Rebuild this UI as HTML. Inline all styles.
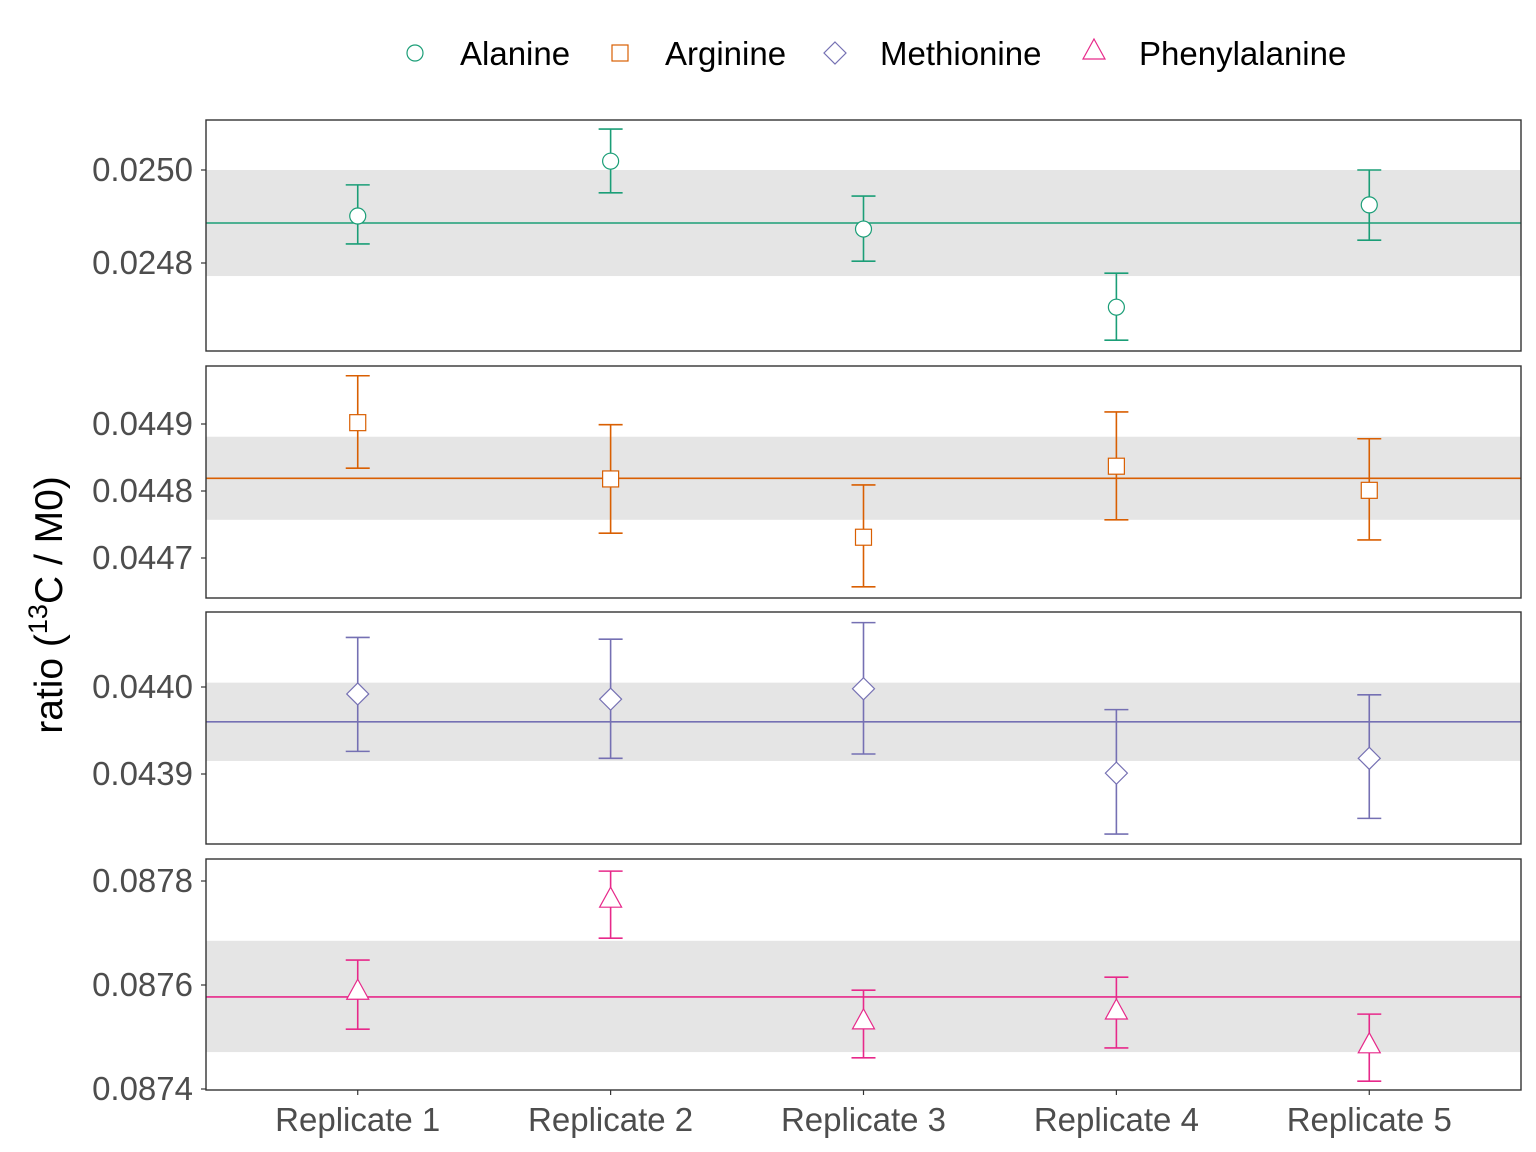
<!DOCTYPE html>
<html><head><meta charset="utf-8"><style>
html,body{margin:0;padding:0;background:#fff;}
svg{display:block;font-family:"Liberation Sans",sans-serif;}
</style></head><body>
<svg id="chart" width="1536" height="1152" viewBox="0 0 1536 1152"></svg>
<script>
const categories = ["Replicate 1","Replicate 2","Replicate 3","Replicate 4","Replicate 5"];
const seriesNames = ["Alanine","Arginine","Methionine","Phenylalanine"];
const alanineVal = [0.024901,0.025019,0.024873,0.024705,0.024925];
const alanineLo  = [0.024841,0.024951,0.024804,0.024634,0.024849];
const alanineHi  = [0.024968,0.025088,0.024944,0.024778,0.025000];
const arginineVal = [0.044902,0.044818,0.044731,0.044837,0.044801];
const arginineLo  = [0.044834,0.044737,0.044657,0.044757,0.044727];
const arginineHi  = [0.044972,0.044899,0.044809,0.044918,0.044878];
const methionineVal = [0.043992,0.043986,0.043998,0.043901,0.043918];
const methionineLo  = [0.043926,0.043918,0.043923,0.043831,0.043849];
const methionineHi  = [0.044057,0.044055,0.044074,0.043974,0.043991];
const pheVal = [0.087588,0.087765,0.087531,0.087550,0.087485];
const pheLo  = [0.087515,0.087690,0.087460,0.087479,0.087415];
const pheHi  = [0.087648,0.087819,0.087590,0.087615,0.087544];
const means = [0.024886,0.044819,0.043960,0.087577];
const bandLo = [0.024772,0.044757,0.043915,0.087471];
const bandHi = [0.025000,0.044881,0.044005,0.087685];
const ticks1 = [0.0248,0.0250];
const ticks2 = [0.0447,0.0448,0.0449];
const ticks3 = [0.0439,0.0440];
const ticks4 = [0.0874,0.0876,0.0878];
const tickLabels1 = ["0.0248","0.0250"];
const tickLabels2 = ["0.0447","0.0448","0.0449"];
const tickLabels3 = ["0.0439","0.0440"];
const tickLabels4 = ["0.0874","0.0876","0.0878"];

const NS="http://www.w3.org/2000/svg";
const svg=document.getElementById('chart');
function mk(tag,attrs,parent){const e=document.createElementNS(NS,tag);for(const k in attrs)e.setAttribute(k,attrs[k]);(parent||svg).appendChild(e);return e;}
const colors=["#1B9E77","#D95F02","#7570B3","#E7298A"];
const X0=206,X1=1521;
function xScale(i){return X0+(i+0.6)*(X1-X0)/5.2;}
const panels=[
 {top:120,bot:351,v0:0.0248,p0:263,v1:0.0250,p1:170,val:alanineVal,lo:alanineLo,hi:alanineHi,ticks:ticks1,tl:tickLabels1,shape:'circle'},
 {top:366,bot:598,v0:0.0447,p0:558,v1:0.0449,p1:424,val:arginineVal,lo:arginineLo,hi:arginineHi,ticks:ticks2,tl:tickLabels2,shape:'square'},
 {top:612,bot:844,v0:0.0439,p0:774,v1:0.0440,p1:687,val:methionineVal,lo:methionineLo,hi:methionineHi,ticks:ticks3,tl:tickLabels3,shape:'diamond'},
 {top:859,bot:1090,v0:0.0874,p0:1089,v1:0.0878,p1:881,val:pheVal,lo:pheLo,hi:pheHi,ticks:ticks4,tl:tickLabels4,shape:'triangle'}
];
function marker(shape,cx,cy,col,parent){
  let e;
  if(shape==='circle')e=mk('circle',{cx:cx,cy:cy,r:8,fill:'#fff',stroke:col,'stroke-width':1.2},parent);
  else if(shape==='square')e=mk('rect',{x:cx-8,y:cy-8,width:16,height:16,fill:'#fff',stroke:col,'stroke-width':1.2},parent);
  else if(shape==='diamond')e=mk('polygon',{points:`${cx},${cy-11} ${cx+11},${cy} ${cx},${cy+11} ${cx-11},${cy}`,fill:'#fff',stroke:col,'stroke-width':1.2},parent);
  else e=mk('polygon',{points:`${cx},${cy-12} ${cx+11},${cy+8} ${cx-11},${cy+8}`,fill:'#fff',stroke:col,'stroke-width':1.2},parent);
  return e;
}
panels.forEach((p,pi)=>{
  const col=colors[pi];
  const y=v=>p.p0+(v-p.v0)*(p.p1-p.p0)/(p.v1-p.v0);
  const g=mk('g',{});
  
  
  mk('rect',{x:X0,y:p.top,width:X1-X0,height:p.bot-p.top,fill:'#fff'},g);
  const band=mk('rect',{x:X0,y:y(bandHi[pi]),width:X1-X0,height:y(bandLo[pi])-y(bandHi[pi]),fill:'#e5e5e5'},g);
  
  
  const ml=mk('line',{x1:X0,x2:X1,y1:y(means[pi]),y2:y(means[pi]),stroke:col,'stroke-width':1.6},g);
  
  
  p.ticks.forEach((t,ti)=>{
    const ty=y(t);
    mk('line',{x1:X0-5,x2:X0,y1:ty,y2:ty,stroke:'#333','stroke-width':1.2},g);
    const tx=mk('text',{x:X0-13,y:ty+11,'text-anchor':'end','font-size':33,fill:'#4d4d4d'},g);
    tx.textContent=p.tl[ti];
    
    
  });
  categories.forEach((c,i)=>{
    const cx=xScale(i);
    const eg=mk('g',{stroke:col,'stroke-width':1.6,fill:'none'},g);
    
    
    mk('line',{x1:cx,x2:cx,y1:y(p.lo[i]),y2:y(p.hi[i])},eg);
    mk('line',{x1:cx-12,x2:cx+12,y1:y(p.lo[i]),y2:y(p.lo[i])},eg);
    mk('line',{x1:cx-12,x2:cx+12,y1:y(p.hi[i]),y2:y(p.hi[i])},eg);
    const m=marker(p.shape,cx,y(p.val[i]),col,g);
    
    
  });
  mk('rect',{x:X0,y:p.top,width:X1-X0,height:p.bot-p.top,fill:'none',stroke:'#333','stroke-width':1.4},g);
});
categories.forEach((c,i)=>{
  const cx=xScale(i);
  mk('line',{x1:cx,x2:cx,y1:1090,y2:1095,stroke:'#333','stroke-width':1.2});
  const t=mk('text',{x:cx,y:1131,'text-anchor':'middle','font-size':33,fill:'#4d4d4d'});
  t.textContent=c;
  
  
});
const yt=mk('text',{transform:'translate(62,605) rotate(-90)','text-anchor':'middle','font-size':39,fill:'#000'});


yt.innerHTML='ratio (<tspan dy="-15" font-size="27">13</tspan><tspan dy="15">C / M0)</tspan>';
const legX=[415,620,835,1094], legTX=[460,665,880,1139];
seriesNames.forEach((s,i)=>{
  const lg=mk('g',{});
  
  
  marker(['circle','square','diamond','triangle'][i],legX[i],i===3?51:53,colors[i],lg);
  const t=mk('text',{x:legTX[i],y:65,'font-size':33,fill:'#000'},lg);
  t.textContent=s;
});
</script>
</body></html>
